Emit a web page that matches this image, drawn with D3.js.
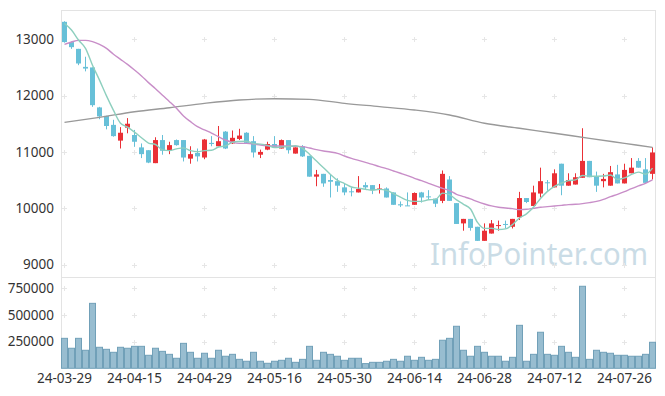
<!DOCTYPE html>
<html>
<head>
<meta charset="utf-8">
<script src="https://cdn.jsdelivr.net/npm/d3@7"></script>
<style>
    body { margin: 0; background: #fff; }
    svg { display: block; }
    text { font-family: "Noto Sans", sans-serif; }
</style>
</head>
<body>
<svg id="chart" width="665" height="396"></svg>
<script>
'use strict';

// trading days shown on the chart
var dates = [
    "2024-03-29", "2024-04-01", "2024-04-02", "2024-04-03", "2024-04-04", "2024-04-05", "2024-04-08", "2024-04-09", "2024-04-11", "2024-04-12",
    "2024-04-15", "2024-04-16", "2024-04-17", "2024-04-18", "2024-04-19", "2024-04-22", "2024-04-23", "2024-04-24", "2024-04-25", "2024-04-26",
    "2024-04-29", "2024-04-30", "2024-05-02", "2024-05-03", "2024-05-07", "2024-05-08", "2024-05-09", "2024-05-10", "2024-05-13", "2024-05-14",
    "2024-05-16", "2024-05-17", "2024-05-20", "2024-05-21", "2024-05-22", "2024-05-23", "2024-05-24", "2024-05-27", "2024-05-28", "2024-05-29",
    "2024-05-30", "2024-05-31", "2024-06-03", "2024-06-04", "2024-06-05", "2024-06-07", "2024-06-10", "2024-06-11", "2024-06-12", "2024-06-13",
    "2024-06-14", "2024-06-17", "2024-06-18", "2024-06-19", "2024-06-20", "2024-06-21", "2024-06-24", "2024-06-25", "2024-06-26", "2024-06-27",
    "2024-06-28", "2024-07-01", "2024-07-02", "2024-07-03", "2024-07-04", "2024-07-05", "2024-07-08", "2024-07-09", "2024-07-10", "2024-07-11",
    "2024-07-12", "2024-07-15", "2024-07-16", "2024-07-17", "2024-07-18", "2024-07-19", "2024-07-22", "2024-07-23", "2024-07-24", "2024-07-25",
    "2024-07-26", "2024-07-29", "2024-07-30", "2024-07-31", "2024-08-01"
];

var openArr = [
    13310, 12950, 12830, 12510, 12500, 11790, 11640, 11480, 11200, 11430,
    11300, 11080, 11030, 10800, 11210, 11030, 11210, 11210, 10880, 10980,
    10900, 11160, 11100, 11360, 11150, 11230, 11340, 11190, 10950, 11040,
    11140, 11060, 11210, 10970, 11100, 10930, 10560, 10610, 10500, 10480,
    10370, 10300, 10280, 10410, 10410, 10340, 10350, 10280, 10070, 10050,
    10060, 10280, 10210, 10170, 10130, 10510, 10090, 9730, 9810, 9670,
    9420, 9550, 9690, 9720, 9670, 9840, 10180, 10040, 10260, 10460,
    10370, 10790, 10400, 10420, 10540, 10840, 10570, 10480, 10400, 10600,
    10440, 10620, 10840, 10690, 10610
];
var highArr = [
    13320, 12960, 12830, 12690, 12500, 11800, 11640, 11570, 11440, 11600,
    11390, 11150, 11030, 11260, 11300, 11180, 11220, 11210, 11100, 11060,
    11230, 11280, 11460, 11370, 11380, 11410, 11350, 11280, 11040, 11180,
    11280, 11220, 11210, 11080, 11120, 10930, 10680, 10610, 10590, 10530,
    10440, 10370, 10570, 10460, 10410, 10430, 10370, 10280, 10120, 10280,
    10280, 10290, 10320, 10170, 10670, 10570, 10090, 9810, 9810, 9670,
    9730, 9790, 9780, 9780, 9810, 10290, 10180, 10400, 10720, 10500,
    10690, 10790, 10620, 10620, 11420, 10840, 10650, 10610, 10750, 10770,
    10790, 10890, 10890, 10890, 11080
];
var lowArr = [
    12940, 12830, 12540, 12430, 11800, 11580, 11400, 11270, 11060, 11330,
    11090, 10890, 10800, 10800, 10950, 10960, 11110, 10830, 10790, 10830,
    10870, 11100, 11100, 11050, 11140, 11210, 11150, 10900, 10890, 11030,
    11090, 11060, 10970, 10970, 10910, 10560, 10390, 10380, 10190, 10290,
    10230, 10210, 10280, 10330, 10250, 10260, 10190, 10060, 10020, 10040,
    10060, 10100, 10150, 10020, 10090, 10130, 9720, 9600, 9600, 9420,
    9420, 9550, 9600, 9640, 9640, 9790, 10090, 10040, 10190, 10310,
    10370, 10230, 10400, 10420, 10540, 10550, 10290, 10370, 10400, 10440,
    10440, 10620, 10720, 10450, 10510
];
var closeArr = [
    12950, 12860, 12570, 12480, 11830, 11630, 11460, 11280, 11340, 11500,
    11180, 10960, 10810, 11210, 11020, 11120, 11120, 10900, 10960, 10920,
    11220, 11140, 11190, 11060, 11250, 11290, 11160, 10990, 11000, 11140,
    11090, 11210, 11030, 11080, 10920, 10560, 10600, 10440, 10470, 10400,
    10280, 10290, 10340, 10370, 10320, 10350, 10190, 10060, 10050, 10040,
    10270, 10190, 10200, 10080, 10610, 10130, 9720, 9810, 9650, 9420,
    9600, 9730, 9700, 9710, 9810, 10180, 10110, 10280, 10480, 10450,
    10620, 10400, 10500, 10550, 10840, 10550, 10400, 10520, 10640, 10440,
    10680, 10720, 10720, 10450, 10990
];
var volumeArr = [
    281000, 188000, 281000, 169000, 609000, 197000, 178000, 150000, 197000, 188000,
    206000, 206000, 122000, 188000, 159000, 131000, 94000, 234000, 150000, 94000,
    141000, 94000, 169000, 113000, 131000, 84000, 66000, 150000, 66000, 47000,
    66000, 75000, 94000, 56000, 84000, 206000, 75000, 150000, 131000, 113000,
    75000, 94000, 94000, 44000, 56000, 56000, 66000, 84000, 66000, 113000,
    75000, 103000, 75000, 84000, 263000, 281000, 394000, 169000, 113000, 206000,
    150000, 113000, 113000, 66000, 103000, 403000, 66000, 131000, 338000, 131000,
    122000, 206000, 150000, 103000, 769000, 84000, 169000, 150000, 141000, 122000,
    122000, 113000, 113000, 131000, 244000
];

// moving averages
var ma5Arr = [
    13280, 13165, 12987, 12839, 12540, 12275, 11995, 11737, 11509, 11441,
    11351, 11252, 11157, 11131, 11035, 11023, 11054, 11072, 11022, 11002,
    11023, 11028, 11087, 11106, 11172, 11185, 11190, 11148, 11138, 11116,
    11077, 11086, 11095, 11109, 11064, 10958, 10837, 10719, 10598, 10495,
    10438, 10376, 10356, 10336, 10320, 10335, 10316, 10259, 10195, 10139,
    10122, 10121, 10149, 10154, 10267, 10241, 10147, 10069, 9985, 9748,
    9641, 9643, 9621, 9632, 9709, 9825, 9900, 10016, 10171, 10299,
    10388, 10446, 10490, 10503, 10581, 10567, 10568, 10571, 10590, 10511,
    10537, 10601, 10641, 10603, 10712
];
var ma20Arr = [
    12910, 12952, 12981, 12981, 12958, 12910, 12839, 12733, 12644, 12555,
    12454, 12348, 12230, 12123, 12004, 11892, 11774, 11637, 11537, 11448,
    11390, 11335, 11270, 11211, 11170, 11152, 11152, 11140, 11122, 11110,
    11105, 11105, 11105, 11099, 11093, 11069, 11040, 11016, 10998, 10974,
    10927, 10886, 10850, 10815, 10779, 10738, 10702, 10661, 10620, 10578,
    10531, 10489, 10442, 10395, 10353, 10312, 10247, 10205, 10164, 10116,
    10075, 10040, 10016, 10004, 9992, 9974, 9980, 9998, 10016, 10028,
    10040, 10051, 10063, 10069, 10081, 10099, 10122, 10158, 10205, 10247,
    10294, 10347, 10395, 10442, 10501
];
var ma60Idx = [0, 5, 10, 15, 20, 25, 30, 35, 40, 45, 50, 55, 60, 65, 70, 75, 80, 84];
var ma60Arr = [11525, 11614, 11714, 11785, 11862, 11922, 11945, 11933, 11862, 11804, 11744, 11656, 11508, 11419, 11330, 11241, 11152, 11081];

var priceTicks = [9000, 10000, 11000, 12000, 13000];
var volumeTicks = [250000, 500000, 750000];
var labelDates = dates.filter(function (d, i) { return i % 10 === 0; });

var upColor = "#ea3036";
var downColor = "#67c0d8";

var svg = d3.select("#chart");
var left = 61, right = 656;

var x = d3.scaleBand().domain(dates).range([left, right]).padding(0);
var yPrice = d3.scaleLinear().domain([8778, 13520]).range([277, 10]);
var yVol = d3.scaleLinear().domain([0, 856000]).range([368.3, 277]);

function cx(d) { return x(d) + x.bandwidth() / 2; }

// watermark
svg.append("text")
    .attr("x", 430).attr("y", 265)
    .attr("textLength", 218).attr("lengthAdjust", "spacingAndGlyphs")
    .style("font-size", "31px").attr("fill", "#cadce6")
    .text("InfoPointer.com");

// frame
var frame = svg.append("g").attr("stroke", "#e3e3e3").attr("stroke-width", 1);
frame.append("line").attr("x1", left + 0.5).attr("x2", left + 0.5).attr("y1", 10).attr("y2", 368);
frame.append("line").attr("x1", right - 0.5).attr("x2", right - 0.5).attr("y1", 10).attr("y2", 368);
frame.append("line").attr("x1", left).attr("x2", right).attr("y1", 10.5).attr("y2", 10.5);
frame.append("line").attr("x1", left).attr("x2", right).attr("y1", 277.5).attr("y2", 277.5);

// grid crosses
var crossRows = priceTicks.map(function (t) { return yPrice(t); })
    .concat(volumeTicks.map(function (t) { return yVol(t); }));
var crosses = [];
labelDates.forEach(function (d) {
    crossRows.forEach(function (yy) { crosses.push({x: cx(d), y: Math.round(yy) + 0.5}); });
});
var cg = svg.append("g").attr("stroke", "#e6e6e6").attr("stroke-width", 1);
cg.selectAll("path").data(crosses).enter().append("path")
    .attr("d", function (c) { return "M" + (c.x - 2.5) + "," + c.y + "H" + (c.x + 2.5) + "M" + c.x + "," + (c.y - 2.5) + "V" + (c.y + 2.5); });

// volume
svg.append("g").selectAll("rect").data(dates).enter().append("rect")
    .attr("x", function (d) { return x(d) + 0.5; })
    .attr("width", x.bandwidth() - 1)
    .attr("y", function (d, i) { return yVol(volumeArr[i]); })
    .attr("height", function (d, i) { return yVol(0) - yVol(volumeArr[i]); })
    .attr("fill", "#98bdd0").attr("stroke", "#71a0b8").attr("stroke-width", 1);

// candles
var candle = svg.append("g").selectAll("g").data(dates).enter().append("g")
    .attr("fill", function (d, i) { return closeArr[i] >= openArr[i] ? upColor : downColor; })
    .attr("stroke", function (d, i) { return closeArr[i] >= openArr[i] ? upColor : downColor; });
candle.append("line")
    .attr("x1", cx).attr("x2", cx)
    .attr("y1", function (d, i) { return yPrice(highArr[i]); })
    .attr("y2", function (d, i) { return yPrice(lowArr[i]); })
    .attr("stroke-width", 1);
candle.append("rect")
    .attr("stroke", "none")
    .attr("x", function (d) { return x(d) + 1; })
    .attr("width", x.bandwidth() - 2)
    .attr("y", function (d, i) { return yPrice(Math.max(openArr[i], closeArr[i])); })
    .attr("height", function (d, i) { return Math.max(1, Math.abs(yPrice(openArr[i]) - yPrice(closeArr[i]))); });

// moving averages
function maLine(values, idx) {
    var pts = values.map(function (v, k) { return [cx(dates[idx ? idx[k] : k]), yPrice(v)]; });
    return d3.line().curve(d3.curveMonotoneX)(pts);
}
svg.append("path").attr("d", maLine(ma60Arr, ma60Idx)).attr("fill", "none").attr("stroke", "#999").attr("stroke-width", 1.4);
svg.append("path").attr("d", maLine(ma20Arr)).attr("fill", "none").attr("stroke", "#c88ec8").attr("stroke-width", 1.4);
svg.append("path").attr("d", maLine(ma5Arr)).attr("fill", "none").attr("stroke", "#8dcfbe").attr("stroke-width", 1.4);

// axes
var yAxis = svg.append("g").attr("transform", "translate(" + left + ",0)")
    .call(d3.axisLeft(yPrice).tickValues(priceTicks).tickSize(0).tickPadding(7).tickFormat(d3.format("d")));
var vAxis = svg.append("g").attr("transform", "translate(" + left + ",0)")
    .call(d3.axisLeft(yVol).tickValues(volumeTicks).tickSize(0).tickPadding(7).tickFormat(d3.format("d")));
var xAxis = svg.append("g").attr("transform", "translate(0,368)")
    .call(d3.axisBottom(x).tickValues(labelDates).tickSize(0).tickPadding(5)
        .tickFormat(function (d) { return d.slice(2); }));

[yAxis, vAxis, xAxis].forEach(function (g) {
    g.select(".domain").remove();
    g.selectAll("text").attr("fill", "#333").style("font-size", "13.5px")
        .style("font-family", "\"Noto Sans\", sans-serif");
});
</script>
</body>
</html>
